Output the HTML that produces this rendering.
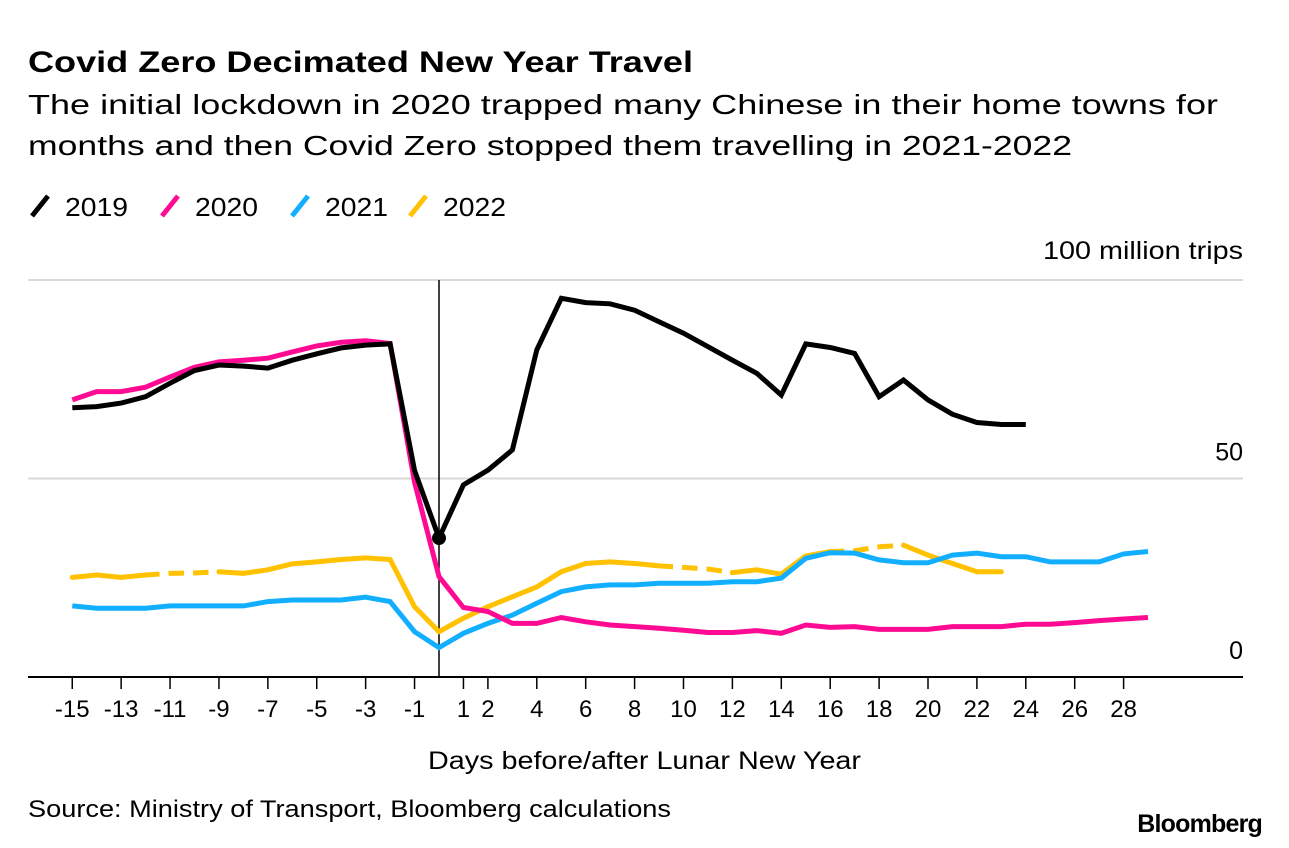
<!DOCTYPE html>
<html><head><meta charset="utf-8"><style>
body{margin:0;background:#fff;}
svg{display:block;font-family:"Liberation Sans",Arial,sans-serif;}
</style></head><body>
<svg id="chart" width="1289" height="848" viewBox="0 0 1289 848" xmlns="http://www.w3.org/2000/svg">
<text x="28" y="72" font-size="30" font-weight="bold" textLength="665" lengthAdjust="spacingAndGlyphs">Covid Zero Decimated New Year Travel</text>
<text x="28" y="114" font-size="28" textLength="1190" lengthAdjust="spacingAndGlyphs">The initial lockdown in 2020 trapped many Chinese in their home towns for</text>
<text x="28" y="155" font-size="28" textLength="1044" lengthAdjust="spacingAndGlyphs">months and then Covid Zero stopped them travelling in 2021-2022</text>
<g id="legend"></g>
<text x="1243" y="259" font-size="25" text-anchor="end" textLength="200" lengthAdjust="spacingAndGlyphs">100 million trips</text>
<g id="grid"></g>
<g id="series"></g>
<g id="xaxis"></g>
<text x="428" y="769" font-size="25" textLength="433" lengthAdjust="spacingAndGlyphs">Days before/after Lunar New Year</text>
<text x="28" y="817" font-size="24" textLength="643" lengthAdjust="spacingAndGlyphs">Source: Ministry of Transport, Bloomberg calculations</text>
<text x="1262" y="832" font-size="25" font-weight="bold" text-anchor="end" letter-spacing="-0.8">Bloomberg</text>
</svg>
<script>
const days = [-15,-14,-13,-12,-11,-10,-9,-8,-7,-6,-5,-4,-3,-2,-1,0,1,2,3,4,5,6,7,8,9,10,11,12,13,14,15,16,17,18,19,20,21,22,23,24,25,26,27,28,29];
const s2019 = [67.8,68.1,69,70.6,74,77.2,78.6,78.3,77.8,79.8,81.4,82.9,83.6,83.9,52,35,48.4,52.1,57.2,82.4,95.4,94.3,94,92.4,89.5,86.6,83.2,79.8,76.5,71,83.9,83,81.5,70.6,74.8,69.8,66.2,64.1,63.6,63.6,null,null,null,null,null];
const s2020 = [69.8,71.9,71.9,73,75.6,78,79.4,79.8,80.3,81.9,83.4,84.3,84.7,84,49,25.3,17.5,16.5,13.5,13.5,15,13.9,13.1,12.7,12.3,11.8,11.2,11.2,11.7,11,13.1,12.5,12.7,12,12,12,12.7,12.7,12.7,13.3,13.3,13.7,14.2,14.6,15];
const s2021 = [17.9,17.3,17.3,17.3,17.9,17.9,17.9,17.9,19,19.4,19.4,19.4,20.1,19,11.4,7.4,11,13.5,15.6,18.6,21.5,22.7,23.2,23.2,23.6,23.6,23.6,24,24,24.9,29.9,31.3,31.2,29.5,28.8,28.8,30.7,31.2,30.3,30.3,29,29,29,31,31.6];
const s2022 = [25.1,25.7,25.1,25.7,26.1,26.2,26.5,26.1,27,28.5,29,29.6,30,29.6,17.7,11.4,14.8,17.7,20.2,22.7,26.5,28.6,29,28.6,28,27.6,27.2,26.3,27,25.9,30.5,31.6,31.8,32.8,33.2,30.7,28.6,26.5,26.5,null,null,null,null,null,null];
const dashed2022 = [[-12,-9],[9,12],[16,19]];
const xTicks = [-15,-13,-11,-9,-7,-5,-3,-1,1,2,4,6,8,10,12,14,16,18,20,22,24,26,28];
const yTicks = [0,50,100];
const seriesNames = ['2019','2020','2021','2022'];
const colors = ['#000000','#ff0b93','#12aeff','#ffc100'];

const NS='http://www.w3.org/2000/svg';
const x = d => 439 + 24.45*d;
const y = v => 677 - 3.97*v;
function mk(tag, attrs, parent){const e=document.createElementNS(NS,tag);for(const k in attrs)e.setAttribute(k,attrs[k]);parent.appendChild(e);return e;}

const grid=document.getElementById('grid');
yTicks.forEach(t=>{
  const l=mk('line',{x1:28,x2:1243,y1:y(t),y2:y(t),stroke:t===0?'#000':'#d9d9d9','stroke-width':2},grid);
  
  
  if(t!==100){
    const tx=mk('text',{x:1243,y:y(t)-18,'font-size':25,'text-anchor':'end'},grid);
    tx.textContent=t;
    
    
  }
});
const vl=mk('line',{x1:x(0),x2:x(0),y1:280,y2:677,stroke:'#000','stroke-width':1.5},grid);



const xa=document.getElementById('xaxis');
xTicks.forEach(t=>{
  const tk=mk('line',{x1:x(t),x2:x(t),y1:677,y2:689,stroke:'#000','stroke-width':1.5},xa);
  
  
  const tx=mk('text',{x:x(t),y:717,'font-size':24,'text-anchor':'middle'},xa);
  tx.textContent=t;
  
  
});

const sg=document.getElementById('series');
const allSeries=[s2019,s2020,s2021,s2022];
[3,2,1,0].forEach(i=>{
  const data=allSeries[i];
  const g=mk('g',{},sg);
  
  
  if(i===3){
    for(let k=0;k<days.length-1;k++){
      if(data[k]==null||data[k+1]==null)continue;
      const d=days[k];
      const isDash=dashed2022.some(r=>d>=r[0]&&days[k+1]<=r[1]);
      const seg=mk('line',{x1:x(d),y1:y(data[k]),x2:x(days[k+1]),y2:y(data[k+1]),stroke:colors[i],'stroke-width':5,'stroke-linecap':isDash?'butt':'round'},g);
      if(isDash)seg.setAttribute('stroke-dasharray','14 9');
      
      
    }
  } else {
    let dstr='';
    data.forEach((v,k)=>{if(v==null)return;dstr+=(dstr?'L':'M')+x(days[k]).toFixed(1)+','+y(v).toFixed(1);});
    const p=mk('path',{d:dstr,fill:'none',stroke:colors[i],'stroke-width':5,'stroke-linejoin':'miter','stroke-linecap':'butt'},g);
    
    
  }
});
const dot=mk('circle',{cx:x(0),cy:y(s2019[days.indexOf(0)]),r:7,fill:'#000'},sg);



const lg=document.getElementById('legend');
const lx=[30,160,290,408];
seriesNames.forEach((n,i)=>{
  const g=mk('g',{},lg);
  
  
  mk('line',{x1:lx[i]+2,y1:216,x2:lx[i]+18,y2:196,stroke:colors[i],'stroke-width':5},g);
  const t=mk('text',{x:lx[i]+35,y:216,'font-size':26,textLength:63,lengthAdjust:'spacingAndGlyphs'},g);
  t.textContent=n;
});
</script>
</body></html>
